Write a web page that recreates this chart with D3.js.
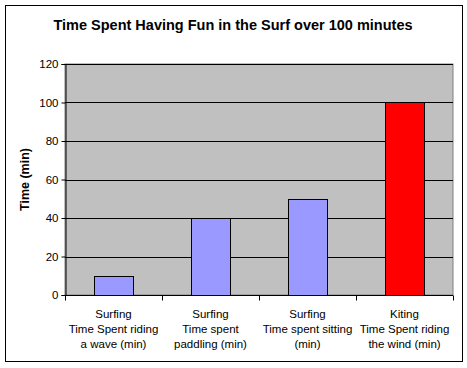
<!DOCTYPE html>
<html>
<head>
<meta charset="utf-8">
<script src="https://cdn.jsdelivr.net/npm/d3@7"></script>
<style>
  body { margin: 0; background: #fff; }
  text { font-family: Arial, "Liberation Sans", sans-serif; }
</style>
</head>
<body>
<script>
var categories = [
  ["Surfing", "Time Spent riding", "a wave (min)"],
  ["Surfing", "Time spent", "paddling (min)"],
  ["Surfing", "Time spent sitting", "(min)"],
  ["Kiting", "Time Spent riding", "the wind (min)"]
];
var values = [10, 40, 50, 100];
var barColors = ["#9999ff", "#9999ff", "#9999ff", "#ff0000"];
var yTicks = [0, 20, 40, 60, 80, 100, 120];

var W = 467, H = 368;
var margin = {top: 64, right: 14, bottom: 73, left: 65},
    width = W - margin.left - margin.right,
    height = H - margin.top - margin.bottom;

var svg = d3.select("body").append("svg")
    .attr("width", W)
    .attr("height", H);

// outer chart border
svg.append("rect")
    .attr("x", 5.5).attr("y", 5.5)
    .attr("width", 457).attr("height", 356)
    .attr("fill", "#fff").attr("stroke", "#000");

svg.append("text")
    .attr("x", 233).attr("y", 30)
    .attr("text-anchor", "middle")
    .style("font-size", "14.5px").style("font-weight", "bold")
    .text("Time Spent Having Fun in the Surf over 100 minutes");

var g = svg.append("g")
    .attr("transform", "translate(" + margin.left + "," + margin.top + ")");

var x = d3.scaleBand().domain(d3.range(categories.length)).range([0, width]).paddingInner(0).paddingOuter(0);
var y = d3.scaleLinear().domain([0, 120]).range([height, 0]);

g.append("rect")
    .attr("width", width).attr("height", height)
    .attr("fill", "#c0c0c0").attr("stroke", "#808080");

// gridlines
g.selectAll(".grid")
    .data(yTicks.filter(function(d) { return d > 0; }))
  .enter().append("line")
    .attr("x1", 0).attr("x2", width)
    .attr("y1", function(d) { return Math.round(y(d)) + 0.5; })
    .attr("y2", function(d) { return Math.round(y(d)) + 0.5; })
    .attr("stroke", "#000");

// bars
var bw = x.bandwidth() * 0.4;
g.selectAll(".bar")
    .data(values)
  .enter().append("rect")
    .attr("x", function(d, i) { return Math.round(x(i) + x.bandwidth() / 2 - bw / 2) + 0.5; })
    .attr("y", function(d) { return Math.round(y(d)) + 0.5; })
    .attr("width", Math.round(bw))
    .attr("height", function(d) { return Math.round(height - y(d)); })
    .attr("fill", function(d, i) { return barColors[i]; })
    .attr("stroke", "#000");

// y axis
var yAxis = g.append("g")
    .attr("transform", "translate(0.5,0)")
    .call(d3.axisLeft(y).tickValues(yTicks).tickSize(4).tickPadding(3));
yAxis.selectAll("text").style("font-size", "11.5px").attr("fill", "#000");
yAxis.selectAll("line, path").attr("stroke", "#000");

// x axis
var xAxis = g.append("g")
    .attr("transform", "translate(0," + (height + 0.5) + ")");
xAxis.append("line").attr("x1", 0).attr("x2", width).attr("stroke", "#000");
xAxis.selectAll(".tick")
    .data(d3.range(categories.length + 1))
  .enter().append("line")
    .attr("x1", function(i) { return Math.round(i * x.step()) + 0.5; })
    .attr("x2", function(i) { return Math.round(i * x.step()) + 0.5; })
    .attr("y1", 0).attr("y2", 5)
    .attr("stroke", "#000");

xAxis.selectAll(".lab")
    .data(categories)
  .enter().append("text")
    .attr("text-anchor", "middle")
    .attr("transform", function(d, i) { return "translate(" + (x(i) + x.bandwidth() / 2) + ",0)"; })
    .style("font-size", "11.5px")
    .selectAll("tspan")
    .data(function(d) { return d; })
  .enter().append("tspan")
    .attr("x", 0)
    .attr("y", function(d, j) { return 22 + j * 15; })
    .text(function(d) { return d; });

svg.append("text")
    .attr("transform", "translate(29," + (margin.top + height / 2) + ") rotate(-90)")
    .attr("text-anchor", "middle")
    .style("font-size", "12.5px").style("font-weight", "bold")
    .text("Time (min)");
</script>
</body>
</html>
